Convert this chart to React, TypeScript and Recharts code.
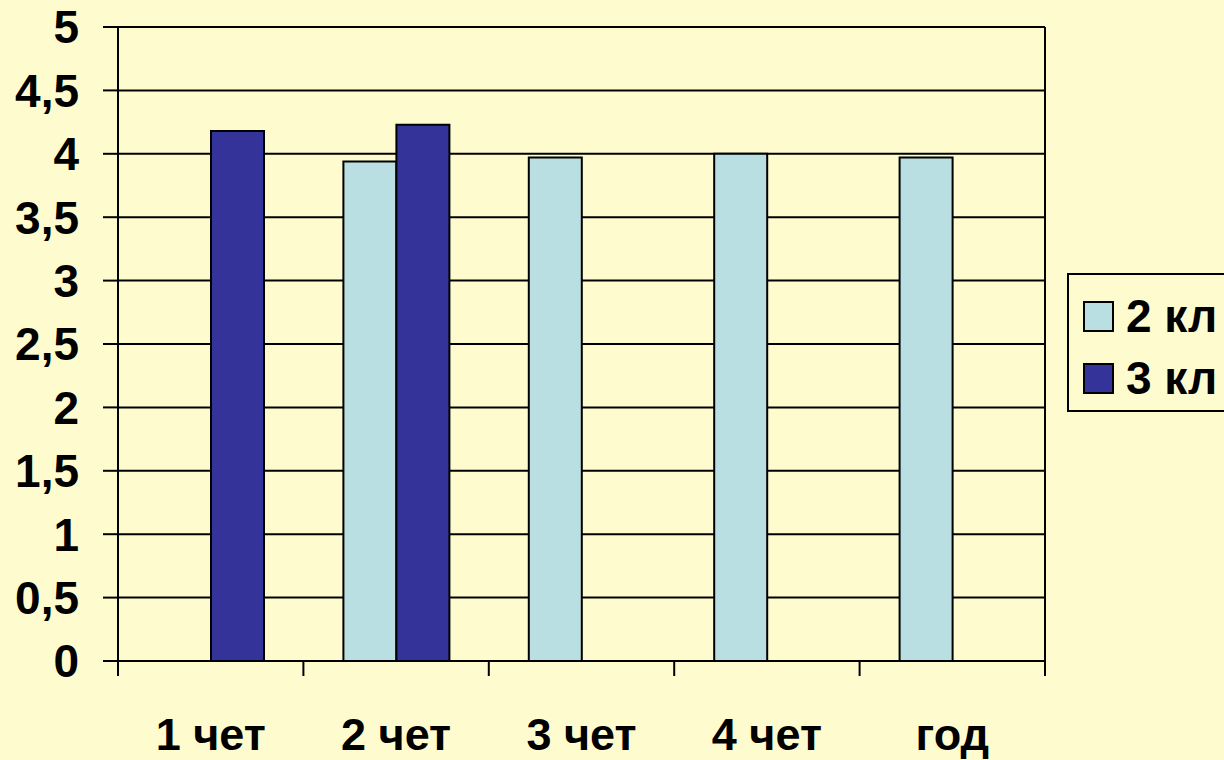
import React from "react";
import {Bar, BarChart, CartesianGrid, XAxis, YAxis} from "recharts";

const periods = ["1 чет", "2 чет", "3 чет", "4 чет", "год"];
const grade2 = [null, 3.94, 3.97, 4.0, 3.97];
const grade3 = [4.18, 4.23, null, null, null];
const yTicks = [0, 0.5, 1, 1.5, 2, 2.5, 3, 3.5, 4, 4.5, 5];

const series = [
    {key: "kl2", name: "2 кл", color: "#BADFE3"},
    {key: "kl3", name: "3 кл", color: "#333399"},
];

const data = periods.map((p, i) => ({period: p, kl2: grade2[i], kl3: grade3[i]}));

const FONT = "'Liberation Sans', Arial, sans-serif";

const XTick = (props: any) => {
    const {x, y, payload, width, visibleTicksCount, index} = props;
    const half = payload?.offset || width / visibleTicksCount / 2;
    return <g>
        <line x1={x - half} x2={x - half} y1={y - 15} y2={y} stroke="#000" strokeWidth={2}/>
        {index === visibleTicksCount - 1 &&
            <line x1={x + half} x2={x + half} y1={y - 15} y2={y} stroke="#000" strokeWidth={2}/>}
        <text x={x} y={y + 74} textAnchor="middle" fontFamily={FONT} fontWeight="bold" fontSize={45}
              fill="#000">{payload.value}</text>
    </g>
}

const LegendBox = () => (
    <div style={{
        position: "absolute", left: 1067, top: 273,
        width: 170, height: 139, border: "2px solid #000", boxSizing: "border-box",
        fontFamily: FONT, fontWeight: "bold", fontSize: 46, color: "#000", paddingTop: 10, paddingLeft: 14
    }}>
        {series.map(s => <div key={s.key} style={{display: "flex", alignItems: "center", height: 62}}>
            <span style={{
                display: "inline-block", width: 27, height: 27, background: s.color,
                border: "2px solid #000", marginRight: 12, flexShrink: 0
            }}/>
            <span style={{whiteSpace: "nowrap"}}>{s.name}</span>
        </div>)}
    </div>
)

const App: React.FC = () => {
    return <div style={{
        position: "fixed", left: 0, top: 0, width: 1224, height: 760, overflow: "hidden", background: "#FEFCCF"
    }}>
        <BarChart
            width={1224}
            height={760}
            data={data}
            margin={{top: 27, right: 179, bottom: 0, left: 0}}
            barGap={0}
            barSize={53}
        >
            <CartesianGrid stroke="#000" strokeWidth={2} strokeOpacity={1}
                           verticalCoordinatesGenerator={({offset}: any) => [offset.left + offset.width]}/>
            <XAxis dataKey="period" height={99} axisLine={{stroke: "#000", strokeWidth: 2}} tickLine={false}
                   tickSize={15} tickMargin={0} tick={<XTick/>} interval={0}/>
            <YAxis width={118} domain={[0, 5]} ticks={yTicks} interval={0}
                   axisLine={{stroke: "#000", strokeWidth: 2}} tickLine={{stroke: "#000", strokeWidth: 2}}
                   tickSize={15} tickMargin={24}
                   tickFormatter={(v: number) => String(v).replace(".", ",")}
                   tick={{fill: "#000", fontFamily: FONT, fontWeight: "bold", fontSize: 46}}/>
            {series.map(s => <Bar key={s.key} dataKey={s.key} name={s.name} fill={s.color} stroke="#000"
                                  strokeWidth={2} isAnimationActive={false}/>)}
        </BarChart>
        <LegendBox/>
    </div>
}

export default App
